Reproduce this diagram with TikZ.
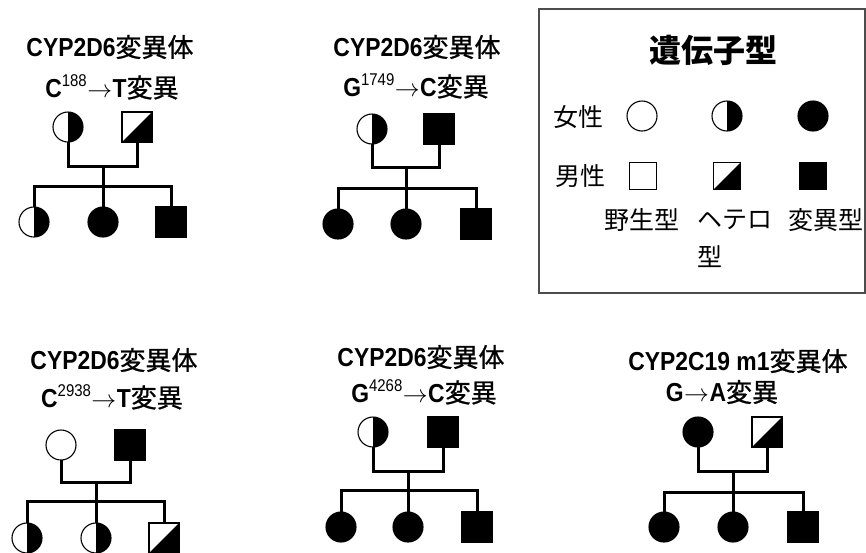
\documentclass[tikz,border=0pt]{standalone}
\usepackage{fontspec}
\newfontfamily\jpf{Noto Sans CJK JP}
\newfontfamily\jpt{Noto Sans CJK JP}[FakeBold=0.9]
\newfontfamily\latf{Liberation Sans}[FakeStretch=0.88]
\newcommand\tlat[1]{{\latf\bfseries #1}}
\newcommand\tjp[1]{{\jpt #1}}
\newcommand\upnum[1]{\raisebox{0.42em}{\fontsize{17}{17}\selectfont\latf #1}}
\newcommand\tarr{\hspace{0.5pt}{\fontsize{23}{23}\selectfont$\rightarrow$}\hspace{0.5pt}}
\begin{document}
\begin{tikzpicture}[x=1pt,y=-1pt,
  sym/.style={draw=black, line width=1.1pt, inner sep=0pt, outer sep=0pt},
  fem/.style={sym, circle, minimum size=30pt},
  femhet/.style={fem, path picture={\fill[black] (path picture bounding box.north) rectangle (path picture bounding box.south east);}},
  femaff/.style={fem, fill=black},
  mal/.style={sym, rectangle, minimum size=30pt},
  malhet/.style={mal, path picture={\fill[black] (path picture bounding box.south west) -- (path picture bounding box.north east) -- (path picture bounding box.south east) -- cycle;}},
  malaff/.style={mal, fill=black},
  conn/.style={line width=3pt, line cap=butt, line join=miter},
  ttl/.style={inner sep=0pt, font=\fontsize{26}{26}\selectfont},
  lgd/.style={inner sep=0pt, font=\fontsize{25}{25}\selectfont\jpf}
]
\useasboundingbox (0,0) rectangle (866,552);

% ---------- Panel 1 ----------
\node[ttl] (t1a) at (110,47) {\tlat{CYP2D6}\tjp{変異体}};
\node[ttl] (t1b) at (112,87) {\tlat{C}\upnum{188}\tarr\tlat{T}\tjp{変異}};
\node[femhet] (m1) at (68,127) {};
\node[malhet] (f1) at (137,127) {};
\coordinate (j1) at (103,166);
\coordinate (s1) at (103,186);
\node[femhet] (k11) at (34,222) {};
\node[femaff] (k12) at (103,222) {};
\node[malaff] (k13) at (171,222) {};
\draw[conn] (m1.south) |- (j1) -| (f1.south);
\draw[conn] (j1) -- (k12.north);
\draw[conn] (k11.north) |- (s1) -| (k13.north);

% ---------- Panel 2 ----------
\node[ttl] (t2a) at (417,47) {\tlat{CYP2D6}\tjp{変異体}};
\node[ttl] (t2b) at (416,86) {\tlat{G}\upnum{1749}\tarr\tlat{C}\tjp{変異}};
\node[femhet] (m2) at (372,129) {};
\node[malaff] (f2) at (439,129) {};
\coordinate (j2) at (406,167);
\coordinate (s2) at (406,188);
\node[femaff] (k21) at (338,224) {};
\node[femaff] (k22) at (406,224) {};
\node[malaff] (k23) at (476,224) {};
\draw[conn] (m2.south) |- (j2) -| (f2.south);
\draw[conn] (j2) -- (k22.north);
\draw[conn] (k21.north) |- (s2) -| (k23.north);

% ---------- Panel 3 ----------
\node[ttl] (t3a) at (114,360) {\tlat{CYP2D6}\tjp{変異体}};
\node[ttl] (t3b) at (112,397) {\tlat{C}\upnum{2938}\tarr\tlat{T}\tjp{変異}};
\node[fem] (m3) at (61,445) {};
\node[malaff] (f3) at (130,445) {};
\coordinate (j3) at (96,482);
\coordinate (s3) at (96,501);
\node[femhet] (k31) at (27,538) {};
\node[femhet] (k32) at (96,538) {};
\node[malhet] (k33) at (164,538) {};
\draw[conn] (m3.south) |- (j3) -| (f3.south);
\draw[conn] (j3) -- (k32.north);
\draw[conn] (k31.north) |- (s3) -| (k33.north);

% ---------- Panel 4 ----------
\node[ttl] (t4a) at (421,357) {\tlat{CYP2D6}\tjp{変異体}};
\node[ttl] (t4b) at (424,392) {\tlat{G}\upnum{4268}\tarr\tlat{C}\tjp{変異}};
\node[femhet] (m4) at (373,432) {};
\node[malaff] (f4) at (443,432) {};
\coordinate (j4) at (408,471);
\coordinate (s4) at (408,490);
\node[femaff] (k41) at (341,527) {};
\node[femaff] (k42) at (408,527) {};
\node[malaff] (k43) at (477,527) {};
\draw[conn] (m4.south) |- (j4) -| (f4.south);
\draw[conn] (j4) -- (k42.north);
\draw[conn] (k41.north) |- (s4) -| (k43.north);

% ---------- Panel 5 ----------
\node[ttl] (t5a) at (738,361) {\tlat{CYP2C19 m1}\tjp{変異体}};
\node[ttl] (t5b) at (722,392) {\tlat{G}\tarr\tlat{A}\tjp{変異}};
\node[femaff] (m5) at (698,432) {};
\node[malhet] (f5) at (767,432) {};
\coordinate (j5) at (733,471);
\coordinate (s5) at (733,492);
\node[femaff] (k51) at (664,527) {};
\node[femaff] (k52) at (733,527) {};
\node[malaff] (k53) at (803,527) {};
\draw[conn] (m5.south) |- (j5) -| (f5.south);
\draw[conn] (j5) -- (k52.north);
\draw[conn] (k51.north) |- (s5) -| (k53.north);

% ---------- Legend ----------
\node[draw=black!70, line width=1.5pt, minimum width=326pt, minimum height=284pt, inner sep=0pt] (box) at (702,151) {};
\node[inner sep=0pt, font=\fontsize{32}{32}\selectfont\jpf\bfseries] (lt) at (713,50) {遺伝子型};
\node[lgd] (lf) at (578,117) {女性};
\node[lgd] (lm) at (580,176) {男性};
\node[fem] (lf1) at (642,116) {};
\node[femhet] (lf2) at (727,116) {};
\node[femaff] (lf3) at (813,116) {};
\node[mal, minimum size=27pt] (lm1) at (643,176) {};
\node[malhet, minimum size=27pt] (lm2) at (727,176) {};
\node[malaff, minimum size=27pt] (lm3) at (813,176) {};
\node[lgd] (lw) at (642,220) {野生型};
\node[lgd, anchor=west] (lh) at (697,220) {ヘテロ};
\node[lgd, anchor=west] (lh2) at (697,257) {型};
\node[lgd] (lv) at (826,220) {変異型};
\end{tikzpicture}
\end{document}
